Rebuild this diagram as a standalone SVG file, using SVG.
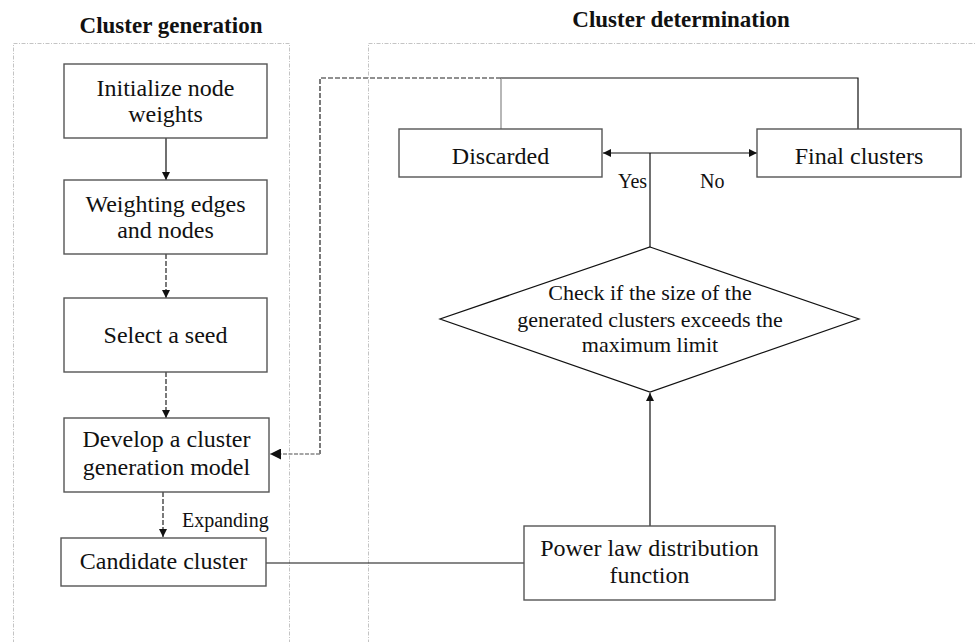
<svg xmlns="http://www.w3.org/2000/svg" width="976" height="642" viewBox="0 0 976 642">
<defs>
<style>
.cont{fill:none;stroke:#c4c4c4;stroke-width:1;stroke-dasharray:4 1.5 1 1.5}
.box{fill:#fff;stroke:#555;stroke-width:1.4}
.t{font-family:"Liberation Serif","Times New Roman",serif;font-size:24px;fill:#111;text-anchor:middle}
.s{font-family:"Liberation Serif","Times New Roman",serif;font-size:20px;fill:#111}
.d{font-family:"Liberation Serif","Times New Roman",serif;font-size:22px;fill:#111;text-anchor:middle}
.title{font-family:"Liberation Serif","Times New Roman",serif;font-size:23px;font-weight:bold;fill:#111;text-anchor:middle}
.ln{fill:none;stroke:#111;stroke-width:1.2}
.dash{fill:none;stroke:#222;stroke-width:1.2;stroke-dasharray:5 2}
.gdash{fill:none;stroke:#888;stroke-width:1.4;stroke-dasharray:4 1.5}
</style>
<marker id="ah" viewBox="0 0 10 10" refX="10" refY="5" markerWidth="8" markerHeight="8" markerUnits="userSpaceOnUse" orient="auto">
<path d="M0,0 L10,5 L0,10 z" fill="#111"/>
</marker>
<marker id="ahb" viewBox="0 0 10 10" refX="10" refY="5" markerWidth="11" markerHeight="11" markerUnits="userSpaceOnUse" orient="auto">
<path d="M0,0 L10,5 L0,10 z" fill="#111"/>
</marker>
</defs>
<rect width="976" height="642" fill="#fff"/>
<g id="containers">
<rect class="cont" x="13.5" y="43.5" width="276" height="620"/>
<rect class="cont" x="368.5" y="43.5" width="700" height="620"/>
<text class="title" x="171" y="33">Cluster generation</text>
<text class="title" x="681" y="27">Cluster determination</text>
</g>
<g id="connectors">
<line class="ln" x1="166" y1="138" x2="166" y2="180" marker-end="url(#ah)"/>
<line class="dash" x1="166" y1="254" x2="166" y2="298" marker-end="url(#ah)"/>
<line class="dash" x1="166" y1="372" x2="166" y2="418" marker-end="url(#ah)"/>
<line class="dash" x1="163" y1="492" x2="163" y2="537" marker-end="url(#ah)"/>
<text class="s" x="182" y="527">Expanding</text>
<line class="ln" x1="266" y1="563" x2="524" y2="563"/>
<line class="ln" x1="650" y1="526" x2="650" y2="393" marker-end="url(#ah)"/>
<line class="ln" x1="650" y1="247" x2="650" y2="153"/>
<line class="ln" x1="650" y1="153" x2="603" y2="153" marker-end="url(#ah)"/>
<line class="ln" x1="650" y1="153" x2="757" y2="153" marker-end="url(#ah)"/>
<text class="s" x="618" y="188">Yes</text>
<text class="s" x="700" y="188">No</text>
<polyline class="ln" points="501,78 858,78 858,129"/>
<line x1="501" y1="78" x2="501" y2="129" stroke="#999" stroke-width="1.4"/>
<polyline class="dash" points="501,78 320,78 320,454"/>
<line class="gdash" x1="320" y1="454" x2="270" y2="454" marker-end="url(#ahb)"/>
</g>
<g id="n1"><rect class="box" x="64" y="64" width="203" height="74"/><text class="t" x="165.5" y="96">Initialize node</text><text class="t" x="165.5" y="122">weights</text></g>
<g id="n2"><rect class="box" x="64" y="180" width="203" height="74"/><text class="t" x="165.5" y="212">Weighting edges</text><text class="t" x="165.5" y="238">and nodes</text></g>
<g id="n3"><rect class="box" x="64" y="298" width="203" height="74"/><text class="t" x="165.5" y="343">Select a seed</text></g>
<g id="n4"><rect class="box" x="64" y="418" width="205" height="74"/><text class="t" x="166.5" y="447">Develop a cluster</text><text class="t" x="166.5" y="475">generation model</text></g>
<g id="n5"><rect class="box" x="61" y="538" width="205" height="48"/><text class="t" x="163.5" y="569">Candidate cluster</text></g>
<g id="n6"><rect class="box" x="524" y="526" width="251" height="74"/><text class="t" x="649.5" y="556">Power law distribution</text><text class="t" x="649.5" y="583">function</text></g>
<g id="n7"><polygon points="650,247 859,319 650,392 440,319" fill="#fff" stroke="#111" stroke-width="1.2"/><text class="d" x="650" y="300">Check if the size of the</text><text class="d" x="650" y="327">generated clusters exceeds the</text><text class="d" x="650" y="352">maximum limit</text></g>
<g id="n8"><rect class="box" x="399" y="129" width="203" height="48"/><text class="t" x="500.5" y="164">Discarded</text></g>
<g id="n9"><rect class="box" x="757" y="129" width="204" height="48"/><text class="t" x="859" y="164">Final clusters</text></g>
</svg>
